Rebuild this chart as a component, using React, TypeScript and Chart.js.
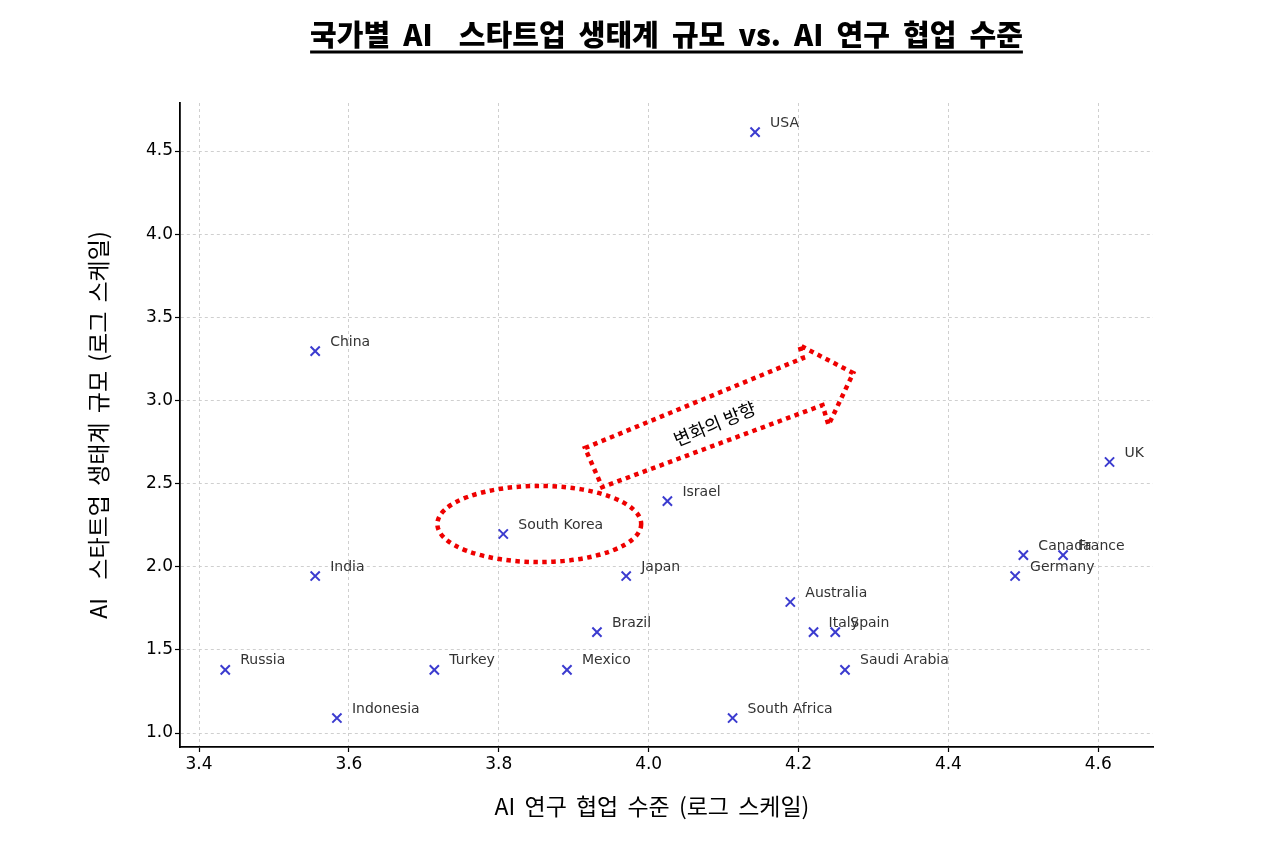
import React, { useEffect, useRef } from "react";
import { Chart, registerables } from "chart.js";

Chart.register(...registerables);

// ---- Data ----
const countries = [
  "USA", "China", "UK", "Israel", "South Korea", "Canada", "France", "India", "Japan", "Germany",
  "Australia", "Brazil", "Italy", "Spain", "Russia", "Turkey", "Mexico", "Saudi Arabia", "Indonesia", "South Africa",
];
const researchLevel = [
  4.142, 3.555, 4.615, 4.025, 3.806, 4.5, 4.553, 3.555, 3.97, 4.489,
  4.189, 3.931, 4.22, 4.249, 3.435, 3.714, 3.891, 4.262, 3.584, 4.112,
];
const ecosystemSize = [
  4.614, 3.297, 2.63, 2.395, 2.197, 2.07, 2.07, 1.944, 1.944, 1.944,
  1.788, 1.607, 1.607, 1.607, 1.38, 1.38, 1.38, 1.38, 1.09, 1.09,
];
const xTicks = [3.4, 3.6, 3.8, 4.0, 4.2, 4.4, 4.6];
const yTicks = [1.0, 1.5, 2.0, 2.5, 3.0, 3.5, 4.0, 4.5];
const xRange = [3.3746, 4.673];
const yRange = [0.916, 4.789];

const titleText = "국가별 AI  스타트업 생태계 규모 vs. AI 연구 협업 수준";
const xTitle = "AI 연구 협업 수준 (로그 스케일)";
const yTitle = "AI  스타트업 생태계 규모 (로그 스케일)";

// annotation (data units)
const ellipseCenter = [3.854, 2.257];
const ellipseRadii = [0.136, 0.229];
const arrowX = [3.915, 4.206, 4.201, 4.273, 4.24, 4.232, 3.938];
const arrowY = [2.714, 3.255, 3.333, 3.165, 2.852, 2.972, 2.479];
const arrowLabel = "변화의 방향";
const arrowLabelPos = [4.088, 2.86];

const labelPlugin = {
  id: "pointLabels",
  afterDatasetsDraw(chart: any) {
    const ctx = chart.ctx;
    const meta = chart.getDatasetMeta(0);
    ctx.save();
    ctx.font = "14px 'DejaVu Sans'";
    ctx.fillStyle = "#333333";
    ctx.textAlign = "left";
    ctx.textBaseline = "middle";
    meta.data.forEach((pt: any, i: number) => {
      ctx.fillText(countries[i], pt.x + 15, pt.y - 9);
    });
    ctx.restore();
  },
};

const annotationPlugin = {
  id: "annotations",
  afterDraw(chart: any) {
    const ctx = chart.ctx;
    const xs = chart.scales.x;
    const ys = chart.scales.y;
    const ca = chart.chartArea;
    ctx.save();
    ctx.strokeStyle = "#ee0000";
    ctx.lineWidth = 4.5;
    ctx.setLineDash([4.5, 4.5]);
    // ellipse
    const cx = xs.getPixelForValue(ellipseCenter[0]);
    const cy = ys.getPixelForValue(ellipseCenter[1]);
    const rx = Math.abs(xs.getPixelForValue(ellipseCenter[0] + ellipseRadii[0]) - cx);
    const ry = Math.abs(ys.getPixelForValue(ellipseCenter[1] + ellipseRadii[1]) - cy);
    ctx.beginPath();
    ctx.ellipse(cx, cy, rx, ry, 0, 0, Math.PI * 2);
    ctx.stroke();
    // arrow
    ctx.beginPath();
    arrowX.forEach((v, i) => {
      const px = xs.getPixelForValue(v);
      const py = ys.getPixelForValue(arrowY[i]);
      if (i === 0) ctx.moveTo(px, py);
      else ctx.lineTo(px, py);
    });
    ctx.closePath();
    ctx.stroke();
    // arrow label
    const a0x = xs.getPixelForValue(arrowX[0]);
    const a0y = ys.getPixelForValue(arrowY[0]);
    const a1x = xs.getPixelForValue(arrowX[1]);
    const a1y = ys.getPixelForValue(arrowY[1]);
    const ang = Math.atan2(a1y - a0y, a1x - a0x);
    ctx.setLineDash([]);
    ctx.translate(xs.getPixelForValue(arrowLabelPos[0]), ys.getPixelForValue(arrowLabelPos[1]));
    ctx.rotate(ang);
    ctx.font = "18px 'Noto Sans CJK KR'";
    ctx.fillStyle = "#000";
    ctx.textAlign = "center";
    ctx.textBaseline = "middle";
    ctx.fillText(arrowLabel, 0, 0);
    ctx.restore();

    // titles
    ctx.save();
    const midX = (ca.left + ca.right) / 2;
    ctx.fillStyle = "#000";
    ctx.font = "900 29px 'Noto Sans CJK KR'";
    (ctx as any).wordSpacing = "6.5px";
    ctx.textAlign = "center";
    ctx.textBaseline = "alphabetic";
    ctx.fillText(titleText, midX, 46);
    const tw = ctx.measureText(titleText).width;
    ctx.fillRect(midX - tw / 2, 50.5, tw, 3);

    ctx.font = "23px 'Noto Sans CJK KR'";
    (ctx as any).wordSpacing = "4px";
    ctx.textBaseline = "middle";
    ctx.fillText(xTitle, 652, 806);
    ctx.translate(98, (ca.top + ca.bottom) / 2);
    ctx.rotate(-Math.PI / 2);
    ctx.fillText(yTitle, 0, 0);
    ctx.restore();
  },
};

const whiteBg = {
  id: "whiteBg",
  beforeDraw(chart: any) {
    const ctx = chart.ctx;
    ctx.save();
    ctx.fillStyle = "#ffffff";
    ctx.fillRect(0, 0, chart.width, chart.height);
    ctx.restore();
  },
};

export default function App() {
  const ref = useRef<HTMLCanvasElement | null>(null);
  useEffect(() => {
    if (!ref.current) return;
    const tickFont = { family: "'DejaVu Sans'", size: 17 };
    const chart = new Chart(ref.current, {
      type: "scatter",
      data: {
        datasets: [
          {
            data: researchLevel.map((x, i) => ({ x, y: ecosystemSize[i] })),
            pointStyle: "crossRot",
            radius: 6.5,
            hoverRadius: 6.5,
            borderWidth: 2,
            borderColor: "#3b3bcf",
            backgroundColor: "#3b3bcf",
          },
        ],
      },
      options: {
        responsive: false,
        animation: false,
        events: [],
        layout: { padding: { top: 103, right: 127, left: 0, bottom: 0 } },
        plugins: {
          legend: { display: false },
          tooltip: { enabled: false },
          title: { display: false },
        },
        scales: {
          x: {
            type: "linear",
            min: xRange[0],
            max: xRange[1],
            afterFit: (s: any) => {
              s.height = 94;
            },
            afterBuildTicks: (s: any) => {
              s.ticks = xTicks.map((v) => ({ value: v }));
            },
            ticks: {
              font: tickFont,
              color: "#000",
              padding: 2,
              maxRotation: 0,
              autoSkip: false,
              callback: (v: any) => Number(v).toFixed(1),
            },
            grid: {
              color: "#cfcfcf",
              lineWidth: 1,
              drawTicks: true,
              tickLength: 5,
              tickColor: "#000",
              tickWidth: 1.2,
              tickBorderDash: [],
            },
            border: { display: true, color: "#000", width: 1.8, dash: [3, 3] },
          },
          y: {
            type: "linear",
            min: yRange[0],
            max: yRange[1],
            afterFit: (s: any) => {
              s.width = 180;
            },
            afterBuildTicks: (s: any) => {
              s.ticks = yTicks.map((v) => ({ value: v }));
            },
            ticks: {
              font: tickFont,
              color: "#000",
              padding: 2,
              autoSkip: false,
              callback: (v: any) => Number(v).toFixed(1),
            },
            grid: {
              color: "#cfcfcf",
              lineWidth: 1,
              drawTicks: true,
              tickLength: 5,
              tickColor: "#000",
              tickWidth: 1.2,
              tickBorderDash: [],
            },
            border: { display: true, color: "#000", width: 1.8, dash: [3, 3] },
          },
        },
      },
      plugins: [whiteBg, labelPlugin, annotationPlugin],
    } as any);
    return () => chart.destroy();
  }, []);

  return (
    <div style={{ position: "absolute", left: 0, top: 0, width: 1280, height: 841, background: "#fff" }}>
      <canvas ref={ref} width={1280} height={841} style={{ width: 1280, height: 841, display: "block" }} />
    </div>
  );
}
